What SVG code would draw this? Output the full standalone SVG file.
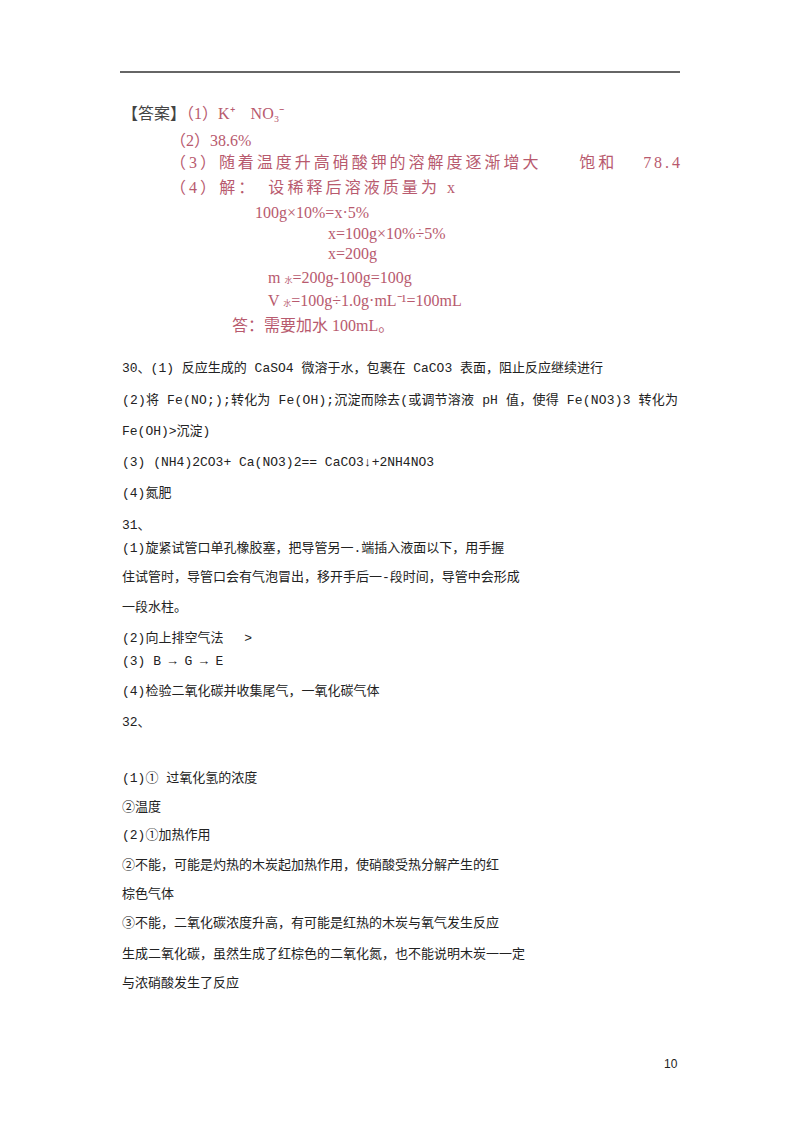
<svg xmlns="http://www.w3.org/2000/svg" width="800" height="1132" viewBox="0 0 800 1132">
<style>
.r{font-family:"Liberation Serif","Noto Sans CJK SC",serif;font-size:16px;fill:#b85a6e}
.b{font-family:"Liberation Mono","Noto Sans CJK SC",monospace;font-size:13px;fill:#222}
</style>
<rect width="800" height="1132" fill="#fff"/>
<line x1="120" y1="72" x2="680" y2="72" stroke="#333" stroke-width="1.5"/>
<g id="answer">
<text class="r" x="122" y="119"><tspan fill="#444">【答案】</tspan>（1）K⁺　NO₃⁻</text>
<text class="r" x="170" y="146">（2）38.6%</text>
<text class="r" x="170" y="168" textLength="510">（3）随着温度升高硝酸钾的溶解度逐渐增大　　饱和　 78.4</text>
<text class="r" x="170" y="193" textLength="285">（4）解：　设稀释后溶液质量为 x</text>
<text class="r" x="255" y="218">100g×10%=x·5%</text>
<text class="r" x="328" y="239">x=100g×10%÷5%</text>
<text class="r" x="328" y="259">x=200g</text>
<text class="r" x="268" y="283">m <tspan font-size="8">水</tspan>=200g-100g=100g</text>
<text class="r" x="268" y="306">V <tspan font-size="8">水</tspan>=100g÷1.0g·mL⁻¹=100mL</text>
<text class="r" x="232" y="331">答：需要加水 100mL。</text>
</g>
<g id="body" class="b">
<text x="122" y="372">30、(1) 反应生成的 CaSO4 微溶于水，包裹在 CaCO3 表面，阻止反应继续进行</text>
<text x="122" y="404" textLength="556">(2)将 Fe(NO;);转化为 Fe(OH);沉淀而除去(或调节溶液 pH 值，使得 Fe(NO3)3 转化为</text>
<text x="122" y="435">Fe(OH)&gt;沉淀)</text>
<text x="122" y="466">(3) (NH4)2CO3+ Ca(NO3)2== CaCO3↓+2NH4NO3</text>
<text x="122" y="497">(4)氮肥</text>
<text x="122" y="529">31、</text>
<text x="122" y="552">(1)旋紧试管口单孔橡胶塞，把导管另一.端插入液面以下，用手握</text>
<text x="122" y="581">住试管时，导管口会有气泡冒出，移开手后一-段时间，导管中会形成</text>
<text x="122" y="611">一段水柱。</text>
<text x="122" y="642">(2)向上排空气法　 &gt;</text>
<text x="122" y="665">(3) B  →  G   →   E</text>
<text x="122" y="695">(4)检验二氧化碳并收集尾气，一氧化碳气体</text>
<text x="122" y="726">32、</text>
<text x="122" y="782">(1)① 过氧化氢的浓度</text>
<text x="122" y="811">②温度</text>
<text x="122" y="839">(2)①加热作用</text>
<text x="122" y="869">②不能，可能是灼热的木炭起加热作用，使硝酸受热分解产生的红</text>
<text x="122" y="898">棕色气体</text>
<text x="122" y="927">③不能，二氧化碳浓度升高，有可能是红热的木炭与氧气发生反应</text>
<text x="122" y="958">生成二氧化碳，虽然生成了红棕色的二氧化氮，也不能说明木炭一一定</text>
<text x="122" y="987">与浓硝酸发生了反应</text>
<text x="664" y="1068" font-family="Liberation Sans,sans-serif" font-size="12">10</text>
</g>
</svg>
